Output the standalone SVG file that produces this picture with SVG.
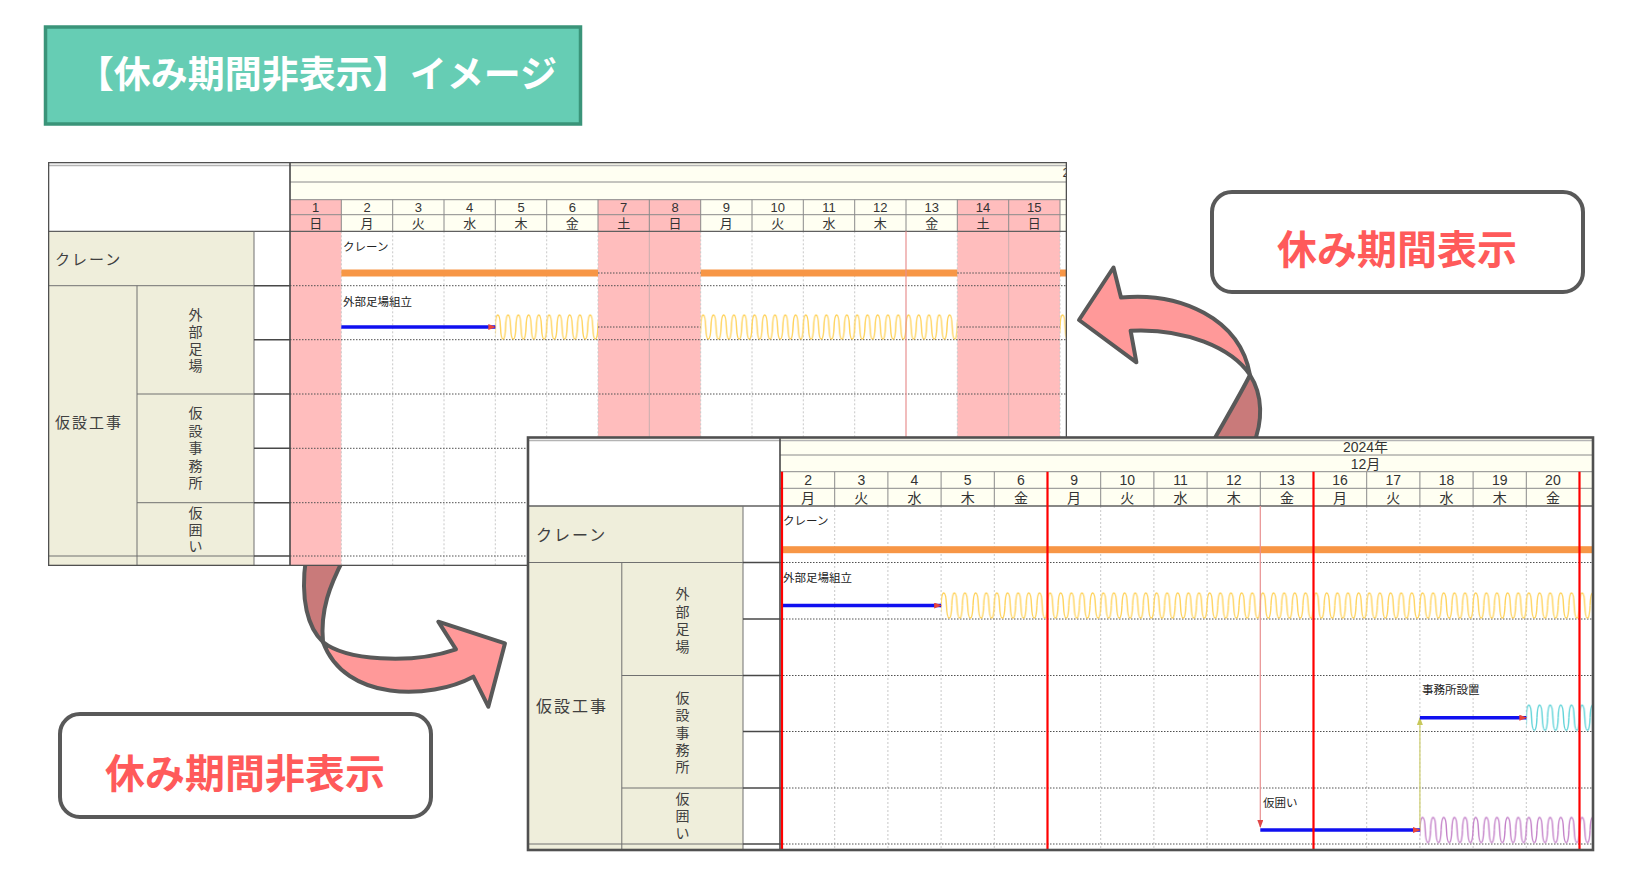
<svg xmlns="http://www.w3.org/2000/svg" xmlns:xlink="http://www.w3.org/1999/xlink" width="1652" height="869" viewBox="0 0 1652 869">
<style>
.cjk{font-family:"Noto Sans CJK JP",sans-serif}
.lbl{font-family:"Noto Sans CJK JP",sans-serif;fill:#404040;dominant-baseline:central}
.vt{font-family:"Noto Sans CJK JP",sans-serif;fill:#404040;font-size:14px;text-anchor:middle;dominant-baseline:central}
.hdA{font-family:"Liberation Sans","Noto Sans CJK JP",sans-serif;fill:#333;font-size:13px;text-anchor:middle;dominant-baseline:central}
.hdB{font-family:"Liberation Sans","Noto Sans CJK JP",sans-serif;fill:#333;font-size:14px;text-anchor:middle;dominant-baseline:central}
.sm{font-family:"Noto Sans CJK JP",sans-serif;font-size:11.5px;fill:#222;dominant-baseline:central}
.rowdot{stroke:#505050;stroke-width:1;stroke-dasharray:1.5 1.5;fill:none}
.coldot{stroke:#c8c8c8;stroke-width:1;stroke-dasharray:2 2;fill:none}
.grid{stroke:#8a8a8a;stroke-width:1;fill:none}
.ln{stroke:#707070;stroke-width:1;fill:none}
.dk{stroke:#484848;stroke-width:1.6;fill:none}
.beige{fill:#EFEEDB}
.cream{fill:#FFFFF2}
.pink{fill:#FFBDBD}
.orange{fill:#F79646}
.blue{stroke:#1010F0;stroke-width:3.5;marker-end:url(#ahR)}
.redv{stroke:#FF0000;stroke-width:2.2}
.frame{fill:none;stroke:#505050;stroke-width:2.6}
.arw{stroke:#595959;stroke-width:4;stroke-linejoin:round}
.callout{fill:#fff;stroke:#595959;stroke-width:4}
.ctext{font-family:"Noto Sans CJK JP",sans-serif;font-weight:bold;font-size:40px;fill:#FF5A5A;text-anchor:middle;dominant-baseline:central}
</style>
<defs>
<marker id="ahR" viewBox="0 0 8 6" refX="7" refY="3" markerWidth="8" markerHeight="6" markerUnits="userSpaceOnUse" orient="auto"><path d="M0,0 L8,3 L0,6 Z" fill="#E8453C"/></marker>
<marker id="ahO" viewBox="0 0 8 6" refX="7" refY="3" markerWidth="8" markerHeight="6" markerUnits="userSpaceOnUse" orient="auto"><path d="M0,0 L8,3 L0,6 Z" fill="#C8C85A"/></marker>
<marker id="ahP" viewBox="0 0 8 6" refX="7" refY="3" markerWidth="8" markerHeight="6" markerUnits="userSpaceOnUse" orient="auto"><path d="M0,0 L8,3 L0,6 Z" fill="#E04848"/></marker>
<path id="sA" d="M0,14 C0.257,7.4 1.283,2 2.567,2 C3.85,2 4.877,7.4 5.133,14 C5.39,20.6 6.417,26 7.7,26 C8.983,26 10.01,20.6 10.267,14" fill="none"/>
<path id="sB" d="M0,14.5 C0.266,7.625 1.33,2 2.66,2 C3.99,2 5.054,7.625 5.32,14.5 C5.586,21.375 6.65,27 7.98,27 C9.31,27 10.374,21.375 10.64,14.5" fill="none"/>
<pattern id="wAy" patternUnits="userSpaceOnUse" x="495.3" y="313" width="10.267" height="28"><g stroke="#FFD35C" stroke-width="1.4"><use xlink:href="#sA"/><use xlink:href="#sA" x="-10.267"/><use xlink:href="#sA" x="10.267"/></g></pattern>
<pattern id="wBy" patternUnits="userSpaceOnUse" x="941.1" y="591" width="10.64" height="29"><g stroke="#FFD35C" stroke-width="1.4"><use xlink:href="#sB"/><use xlink:href="#sB" x="-10.64"/><use xlink:href="#sB" x="10.64"/></g></pattern>
<pattern id="wBc" patternUnits="userSpaceOnUse" x="1526.3" y="703.2" width="10.64" height="29"><g stroke="#5ED3D8" stroke-width="1.4"><use xlink:href="#sB"/><use xlink:href="#sB" x="-10.64"/><use xlink:href="#sB" x="10.64"/></g></pattern>
<pattern id="wBp" patternUnits="userSpaceOnUse" x="1419.9" y="815.5" width="10.64" height="29"><g stroke="#C37FC8" stroke-width="1.4"><use xlink:href="#sB"/><use xlink:href="#sB" x="-10.64"/><use xlink:href="#sB" x="10.64"/></g></pattern>
<clipPath id="clipA"><rect x="48" y="162" width="1019" height="404"/></clipPath>
</defs>

<rect x="0" y="0" width="1652" height="869" fill="#fff"/>

<g id="title">
<rect x="45.5" y="27" width="535" height="97" fill="#66CDB4" stroke="#3A9479" stroke-width="3.5"/>
<text x="317" y="72" class="cjk" font-size="37" font-weight="bold" fill="#fff" text-anchor="middle" dominant-baseline="central">【休み期間非表示】イメージ</text>
</g>

<g id="callout-show">
<rect x="1212" y="192" width="371" height="100" rx="20" class="callout"/>
<text x="1397" y="247" class="ctext">休み期間表示</text>
</g>

<g id="callout-hide">
<rect x="60" y="714" width="371" height="103" rx="20" class="callout"/>
<text x="245" y="771" class="ctext">休み期間非表示</text>
</g>

<g id="connectors">
<path d="M1250,375 C1240,395 1225,420 1211,445 L1253,445 C1263,422 1263,395 1250,375 Z" fill="#C97A7A" class="arw"/>
<path d="M1121,297.5 C1180,292 1240,318 1250,375 C1232,348 1185,328 1130.6,330.7 L1136.4,362.3 L1079,320 L1113.5,267.5 Z" fill="#FF9999" class="arw"/>
<path d="M344,558 C330,585 320,610 323,642 C308,628 300,600 306,558 Z" fill="#C97A7A" class="arw"/>
<path d="M323,642 C345,660 410,665 456,649.3 L438.3,621.7 L505,643.3 L488.3,706.7 L473.3,676.7 C430,700 345,702 323,642 Z" fill="#FF9999" class="arw"/>
</g>

<g id="chartA" clip-path="url(#clipA)">
<rect x="48" y="162" width="1019" height="404" fill="#fff"/>
<rect x="290" y="162" width="777" height="69.3" class="cream"/>
<rect x="290" y="199.7" width="51.3" height="31.6" class="pink"/>
<rect x="598" y="199.7" width="102.7" height="31.6" class="pink"/>
<rect x="957.3" y="199.7" width="102.7" height="31.6" class="pink"/>
<rect x="290" y="231.3" width="51.3" height="334.7" class="pink"/>
<rect x="598" y="231.3" width="102.7" height="334.7" class="pink"/>
<rect x="957.3" y="231.3" width="102.7" height="334.7" class="pink"/>
<rect x="48" y="231.3" width="206" height="54.4" class="beige"/>
<rect x="48" y="285.7" width="206" height="280.3" class="beige"/>
<line x1="48" y1="165.5" x2="1067" y2="165.5" stroke="#b4b4b4" stroke-width="1.5"/>
<path class="grid" d="M290,182H1067M290,199.7H1067M290,214.7H1067"/>
<path class="grid" d="M341.3,199.7V231.3M392.7,199.7V231.3M444,199.7V231.3M495.3,199.7V231.3M546.7,199.7V231.3M598,199.7V231.3M649.3,199.7V231.3M700.7,199.7V231.3M752,199.7V231.3M803.3,199.7V231.3M854.7,199.7V231.3M906,199.7V231.3M957.3,199.7V231.3M1008.7,199.7V231.3M1060,199.7V231.3"/>
<path class="coldot" d="M341.3,231.3V566M392.7,231.3V566M444,231.3V566M495.3,231.3V566M546.7,231.3V566M598,231.3V566M700.7,231.3V566M752,231.3V566M803.3,231.3V566M854.7,231.3V566M957.3,231.3V566M1060,231.3V566"/>
<path d="M649.3,231.3V566M1008.7,231.3V566" stroke="#C9AEAE" stroke-width="1"/>
<path class="rowdot" d="M290,285.7H1067M290,339.7H1067M290,394H1067M290,448.3H1067M290,502.7H1067M290,556H1067"/>
<line x1="48" y1="231.3" x2="1067" y2="231.3" stroke="#606060" stroke-width="1.3"/>
<path class="ln" d="M48,285.7H254M137,394H254M137,502.7H254M48,556H254M137,285.7V566M254,231.3V566"/>
<path class="dk" d="M254,285.7H290M254,339.7H290M254,394H290M254,448.3H290M254,502.7H290M254,556H290M290,162V566"/>
<g class="hdA">
<text x="315.7" y="207.4">1</text><text x="367" y="207.4">2</text><text x="418.3" y="207.4">3</text><text x="469.7" y="207.4">4</text><text x="521" y="207.4">5</text><text x="572.3" y="207.4">6</text><text x="623.7" y="207.4">7</text><text x="675" y="207.4">8</text><text x="726.3" y="207.4">9</text><text x="777.7" y="207.4">10</text><text x="829" y="207.4">11</text><text x="880.3" y="207.4">12</text><text x="931.7" y="207.4">13</text><text x="983" y="207.4">14</text><text x="1034.3" y="207.4">15</text>
<text x="315.7" y="223">日</text><text x="367" y="223">月</text><text x="418.3" y="223">火</text><text x="469.7" y="223">水</text><text x="521" y="223">木</text><text x="572.3" y="223">金</text><text x="623.7" y="223">土</text><text x="675" y="223">日</text><text x="726.3" y="223">月</text><text x="777.7" y="223">火</text><text x="829" y="223">水</text><text x="880.3" y="223">木</text><text x="931.7" y="223">金</text><text x="983" y="223">土</text><text x="1034.3" y="223">日</text>
<text x="1066" y="172">2</text>
</g>
<text x="55" y="258.5" class="lbl" font-size="15" letter-spacing="2">クレーン</text>
<text x="55" y="421" class="lbl" font-size="15" letter-spacing="2">仮設工事</text>
<g class="vt">
<text x="195.5" y="314">外</text><text x="195.5" y="331">部</text><text x="195.5" y="348">足</text><text x="195.5" y="365">場</text>
<text x="195.5" y="412">仮</text><text x="195.5" y="429.5">設</text><text x="195.5" y="447">事</text><text x="195.5" y="464.5">務</text><text x="195.5" y="482">所</text>
<text x="195.5" y="512">仮</text><text x="195.5" y="528.5">囲</text><text x="195.5" y="545">い</text>
</g>
<text x="343" y="246" class="sm">クレーン</text>
<text x="343" y="300.7" class="sm">外部足場組立</text>
<rect x="341.3" y="269.5" width="256.7" height="7" class="orange"/>
<rect x="700.7" y="269.5" width="256.6" height="7" class="orange"/>
<rect x="1060" y="269.5" width="7" height="7" class="orange"/>
<path class="rowdot" d="M598,273H700.7M957.3,273H1060M598,327H700.7M957.3,327H1060"/>
<rect x="495.3" y="313" width="102.7" height="28" fill="url(#wAy)"/>
<rect x="700.7" y="313" width="256.6" height="28" fill="url(#wAy)"/>
<rect x="1060" y="313" width="7" height="28" fill="url(#wAy)"/>
<line x1="341.3" y1="327" x2="495.3" y2="327" class="blue"/>
<line x1="906" y1="231.3" x2="906" y2="566" stroke="#E89090" stroke-width="1.2"/>
<rect x="48" y="162" width="1019" height="404" class="frame"/>
</g>

<g id="chartB">
<rect x="528" y="437.5" width="1065" height="412.5" fill="#fff"/>
<rect x="780" y="437.5" width="813" height="68.5" class="cream"/>
<rect x="528" y="506" width="215" height="56.5" class="beige"/>
<rect x="528" y="562.5" width="215" height="287.5" class="beige"/>
<line x1="528" y1="440.5" x2="1593" y2="440.5" stroke="#b4b4b4" stroke-width="1.5"/>
<path class="grid" d="M780,455H1593M780,471.7H1593M780,488.3H1593"/>
<path class="grid" d="M834.7,471.7V506M887.9,471.7V506M941.1,471.7V506M994.3,471.7V506M1100.7,471.7V506M1153.9,471.7V506M1207.1,471.7V506M1260.3,471.7V506M1366.7,471.7V506M1419.9,471.7V506M1473.1,471.7V506M1526.3,471.7V506"/>
<path class="coldot" d="M834.7,506V850M887.9,506V850M941.1,506V850M994.3,506V850M1100.7,506V850M1153.9,506V850M1207.1,506V850M1366.7,506V850M1419.9,506V850M1473.1,506V850M1526.3,506V850"/>
<path class="rowdot" d="M780,562.5H1593M780,619H1593M780,675.5H1593M780,731.5H1593M780,788H1593M780,844H1593"/>
<line x1="528" y1="506" x2="1593" y2="506" stroke="#606060" stroke-width="1.3"/>
<path class="ln" d="M528,562.5H743M621.8,675.5H743M621.8,788H743M528,844H743M621.8,562.5V850M743,506V850"/>
<path class="dk" d="M743,562.5H780M743,619H780M743,675.5H780M743,731.5H780M743,788H780M743,844H780M780,437.5V850"/>
<g class="hdB">
<text x="1365.5" y="447">2024年</text>
<text x="1365.5" y="463.5">12月</text>
<text x="808.1" y="480.3">2</text><text x="861.3" y="480.3">3</text><text x="914.5" y="480.3">4</text><text x="967.7" y="480.3">5</text><text x="1020.9" y="480.3">6</text><text x="1074.1" y="480.3">9</text><text x="1127.3" y="480.3">10</text><text x="1180.5" y="480.3">11</text><text x="1233.7" y="480.3">12</text><text x="1286.9" y="480.3">13</text><text x="1340.1" y="480.3">16</text><text x="1393.3" y="480.3">17</text><text x="1446.5" y="480.3">18</text><text x="1499.7" y="480.3">19</text><text x="1552.9" y="480.3">20</text>
<text x="808.1" y="497.5">月</text><text x="861.3" y="497.5">火</text><text x="914.5" y="497.5">水</text><text x="967.7" y="497.5">木</text><text x="1020.9" y="497.5">金</text><text x="1074.1" y="497.5">月</text><text x="1127.3" y="497.5">火</text><text x="1180.5" y="497.5">水</text><text x="1233.7" y="497.5">木</text><text x="1286.9" y="497.5">金</text><text x="1340.1" y="497.5">月</text><text x="1393.3" y="497.5">火</text><text x="1446.5" y="497.5">水</text><text x="1499.7" y="497.5">木</text><text x="1552.9" y="497.5">金</text>
</g>
<text x="536" y="534" class="lbl" font-size="16" letter-spacing="2">クレーン</text>
<text x="536" y="704.5" class="lbl" font-size="16" letter-spacing="2">仮設工事</text>
<g class="vt">
<text x="682.5" y="593">外</text><text x="682.5" y="610.5">部</text><text x="682.5" y="628">足</text><text x="682.5" y="645.5">場</text>
<text x="682.5" y="697">仮</text><text x="682.5" y="714.3">設</text><text x="682.5" y="731.6">事</text><text x="682.5" y="748.9">務</text><text x="682.5" y="766.2">所</text>
<text x="682.5" y="798">仮</text><text x="682.5" y="815">囲</text><text x="682.5" y="832">い</text>
</g>
<text x="783" y="520" class="sm">クレーン</text>
<text x="783" y="576.7" class="sm">外部足場組立</text>
<text x="1422" y="689.3" class="sm">事務所設置</text>
<text x="1263" y="801.7" class="sm">仮囲い</text>
<rect x="781.5" y="546.2" width="811.5" height="7" class="orange"/>
<rect x="941.1" y="591" width="651.9" height="29" fill="url(#wBy)"/>
<rect x="1526.3" y="703.2" width="66.7" height="29" fill="url(#wBc)"/>
<rect x="1419.9" y="815.5" width="173.1" height="29" fill="url(#wBp)"/>
<line x1="1260.3" y1="506" x2="1260.3" y2="827" stroke="#E89090" stroke-width="1.2" marker-end="url(#ahP)"/>
<line x1="1419.9" y1="830" x2="1419.9" y2="718" stroke="#D2D27A" stroke-width="1.3" marker-end="url(#ahO)"/>
<line x1="781.5" y1="605.5" x2="941.1" y2="605.5" class="blue"/>
<line x1="1419.9" y1="717.7" x2="1526.3" y2="717.7" class="blue"/>
<line x1="1260.3" y1="830" x2="1419.9" y2="830" class="blue"/>
<path class="redv" d="M782,471.7V850M1047.5,471.7V850M1313.5,471.7V850M1579.5,471.7V850"/>
<rect x="528" y="437.5" width="1065" height="412.5" class="frame"/>
</g>
</svg>
